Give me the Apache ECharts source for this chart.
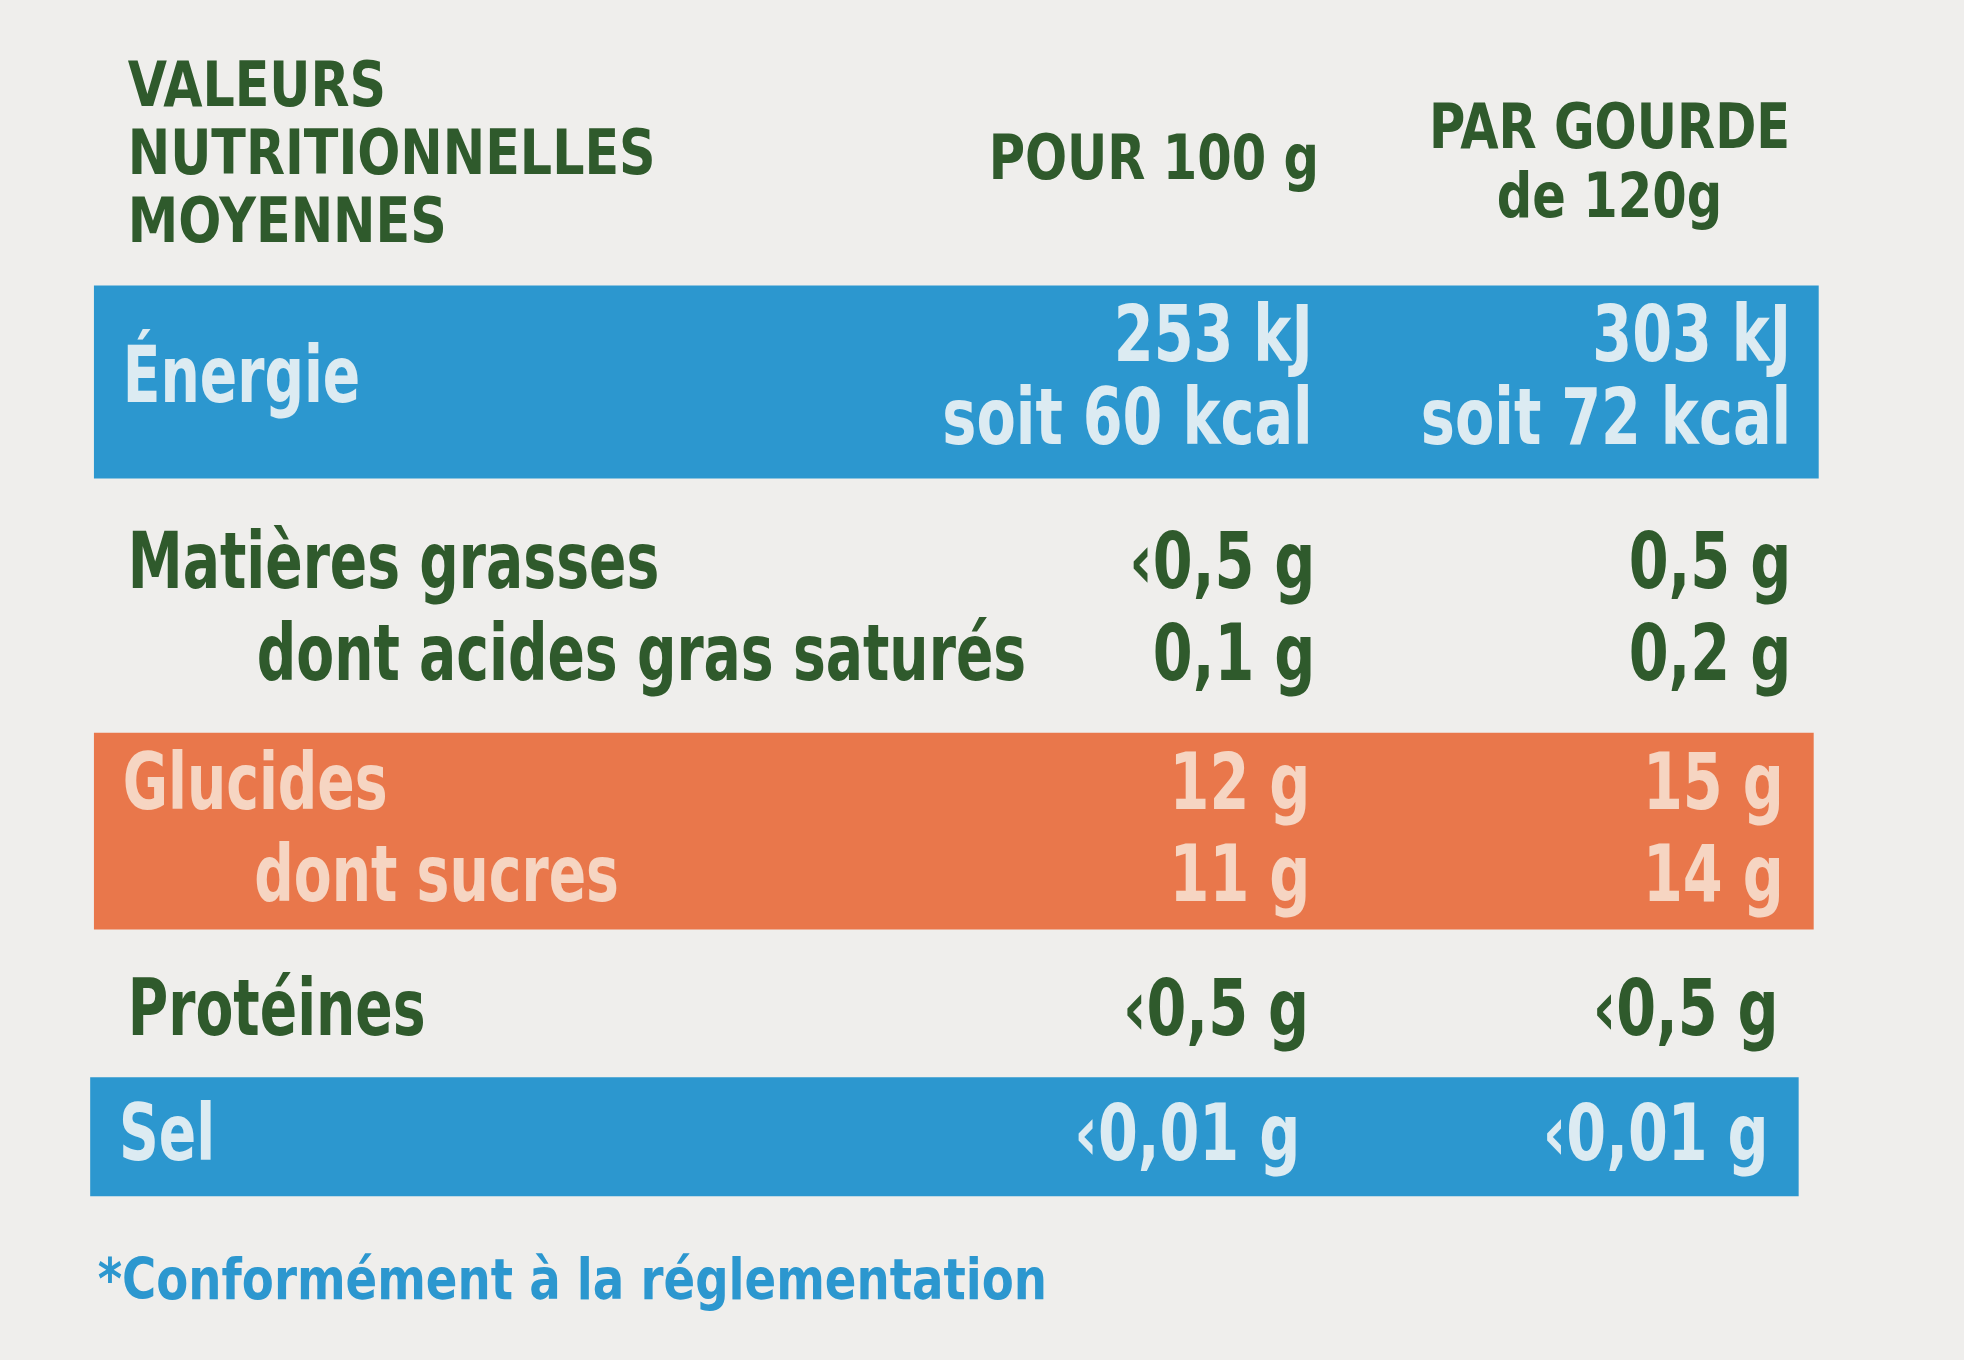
<!DOCTYPE html>
<html><head><meta charset="utf-8">
<script src="https://cdn.jsdelivr.net/npm/echarts@6/dist/echarts.min.js"></script>
<style>html,body{margin:0;padding:0;background:#efeeec}#c{width:1964px;height:1360px}</style>
</head><body><div id="c"></div>
<script>
const headerTitle = ["VALEURS","NUTRITIONNELLES","MOYENNES"];
const colHeads = ["POUR 100 g", "PAR GOURDE\nde 120g"];
const rowLabels = ["Énergie","Matières grasses","dont acides gras saturés","Glucides","dont sucres","Protéines","Sel"];
const per100 = ["253 kJ\nsoit 60 kcal","‹0,5 g","0,1 g","12 g","11 g","‹0,5 g","‹0,01 g"];
const perPortion = ["303 kJ\nsoit 72 kcal","0,5 g","0,2 g","15 g","14 g","‹0,5 g","‹0,01 g"];
const footnote = "*Conformément à la réglementation";

const s = 1964/1568;
const F = "'DejaVu Sans Condensed','DejaVu Sans',sans-serif";
const green = "#2f5a2c", blue = "#2c97cf", orange = "#e9774b";
const g = [];
function rect(x1,y1,x2,y2,c){g.push({type:'rect',shape:{x:x1*s,y:y1*s,width:(x2-x1)*s,height:(y2-y1)*s},style:{fill:c}});}
function txt(t,x,y,size,color,align,bold,lh,sx){g.push({type:'text',x:x*s,y:y*s,scaleX:sx||1,style:{text:t,font:(bold?'bold ':'')+(size*s)+'px '+F,fill:color,align:align||'left',verticalAlign:'middle',lineHeight:(lh||size)*s}});}
rect(75,228,1452,382,blue);
rect(75,585,1448,742,orange);
rect(72,860,1436,955,blue);
headerTitle.forEach((t,i)=>txt(t,102,72+i*54,50,green,'left',true,null,0.9));
txt(colHeads[0],1053,130,50,green,'right',true,null,0.88);
txt(colHeads[1],1285,133,50,green,'center',true,55,0.88);
const rows=[
 {y:305,x:98,c:'#dcebf2',lh:66},
 {y:453,x:102,c:green},
 {y:527,x:205,c:green},
 {y:630,x:98,c:'#f6d5c2'},
 {y:703,x:203,c:'#f6d5c2'},
 {y:810,x:102,c:green},
 {y:910,x:95,c:'#dcebf2'}];
const r1=[1048,1050,1050,1046,1046,1045,1038], r2=[1430,1430,1430,1424,1424,1420,1412];
rowLabels.forEach((l,i)=>{
  const r=rows[i];
  txt(l,r.x,r.y,62,r.c,'left',true,null,0.79);
  txt(per100[i],r1[i],r.y,62,r.c,'right',true,r.lh,0.82);
  txt(perPortion[i],r2[i],r.y,62,r.c,'right',true,r.lh,0.82);
});
txt(footnote,78,1025,46,blue,'left',true,null,0.9);
const chart = echarts.init(document.getElementById('c'));
chart.setOption({backgroundColor:'#efeeec',animation:false,graphic:g,series:[]});
</script></body></html>
